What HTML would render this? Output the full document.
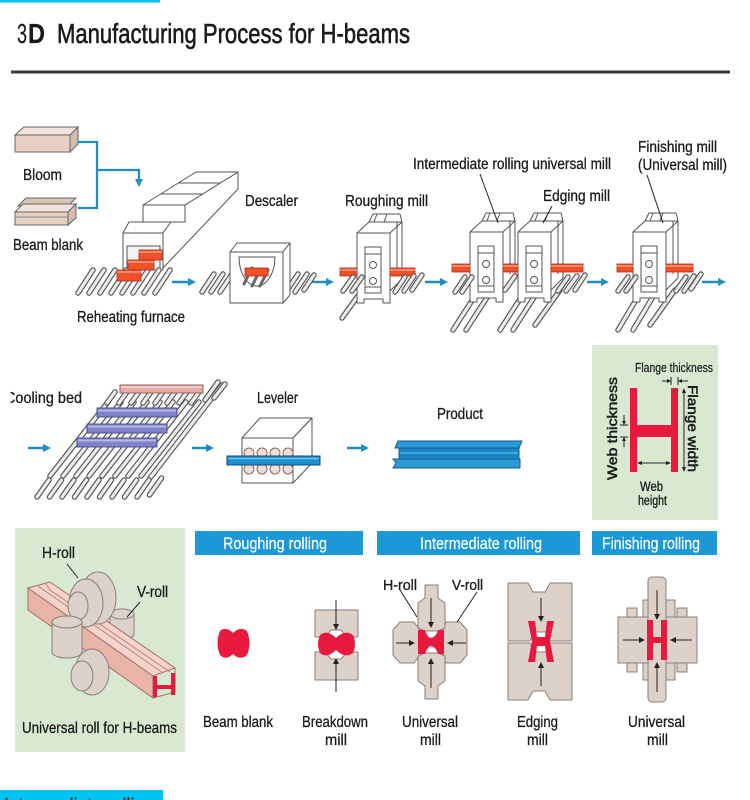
<!DOCTYPE html>
<html><head><meta charset="utf-8"><style>
html,body{margin:0;padding:0;background:#fff;}
svg{display:block;}
text{font-family:"Liberation Sans Narrow","Liberation Sans",sans-serif;fill:#1a1a1a;stroke:#1a1a1a;stroke-width:0.3;}
.r1{stroke:#555;stroke-width:5.5;stroke-linecap:round;fill:none}
.r2{stroke:#ececec;stroke-width:3.2;stroke-linecap:round;fill:none}
.ln{stroke:#555;stroke-width:1;fill:#fff;stroke-linejoin:round}
.gl{stroke:#555;stroke-width:1;fill:none}
.ar{stroke:#1f8fc2;stroke-width:2.5;fill:none}
.ah{fill:#1f8fc2}
.red{fill:#f0502a;stroke:#a83015;stroke-width:0.8}
.roll{fill:#ddd2ca;stroke:#8a7f78;stroke-width:1;stroke-linejoin:round}
.hr{fill:#e8193c}
.bk{stroke:#222;stroke-width:1;fill:none}
.hdr{fill:#1b98d5}
text.wt{fill:#fff;stroke:#fff;stroke-width:0.2}
</style></head><body>
<svg width="750" height="800" viewBox="0 0 750 800" xmlns="http://www.w3.org/2000/svg">
<defs>
 <g id="mill">
  <path class="ln" d="M0 0 L12 -11 H45 V46 L33 58 V0 Z"/>
  <path class="gl" d="M33 0 L45 -11 M40 -11 V42"/>
  <path class="ln" d="M12 -11 L16 -19 H43 L45 -11 Z"/>
  <path class="gl" d="M20 -19 L17 -11 M30 -19 L27 -11"/>
  <path class="ln" d="M0 0 H33 V70 H26 V66 H7 V70 H0 Z"/>
  <rect class="ln" x="8" y="14" width="16" height="46"/>
  <path class="gl" d="M8 21 H24 M8 54 H24"/>
  <circle class="ln" cx="16" cy="32" r="3.5"/>
  <circle class="ln" cx="16" cy="48" r="3.5"/>
 </g>
 <path id="rf" d="M78 293L93 270 M89 293L104 270 M100 293L115 270 M111 293L126 270 M122 293L137 270 M133 293L148 270 M144 293L159 270 M155 293L170 270"/>
 <path id="rd" d="M202 292L214 274 M211 292L223 274 M220 292L232 274 M286 292L298 274 M295 292L307 274 M304 290L314 275"/>
 <path id="rl" d="M342 318L368 282 M453 330L482 285 M466 330L495 285 M500 330L529 285 M513 330L542 285 M535 325L560 290 M618 330L645 285 M633 330L660 285 M650 325L675 290"/>
 <path id="rs" d="M343 291L353 277 M352 291L362 277 M395 292L405 277 M404 291L414 276 M412 290L422 275 M455 292L465 277 M462 292L472 277 M505 290L515 276 M558 291L568 277 M566 291L577 276 M575 290L585 275 M618 291L628 277 M626 291L636 277 M676 291L686 277 M684 291L694 276 M691 289L701 274"/>
 <path id="cb1" d="M50 476L108 402 M63 476L121 402 M76 476L134 402 M89 476L147 402 M102 476L160 402 M115 476L173 402 M128 476L186 402 M141 476L199 402 M150 478L222 385"/>
 <path id="cb2" d="M37 497L49 480 M49.5 497L61.5 480 M62 497L74 480 M74.5 497L86.5 480 M87 497L99 480 M99.5 497L111.5 480 M112 497L124 480 M124.5 497L136.5 480 M137 497L149 480 M149.5 495L161.5 478"/>
 <path id="cb3" d="M107 403L115 392 M119 403L127 392 M131 403L139 392 M143 403L151 392 M155 403L163 392 M167 403L175 392 M179 403L187 392 M191 403L199 392 M205 400L218 382 M214 398L225 384"/>
</defs>

<!-- top cyan -->
<rect x="0" y="0" width="160" height="2.5" fill="#00c2f0"/>

<!-- Title -->
<text x="17" y="43" font-size="28" textLength="10" lengthAdjust="spacingAndGlyphs" style="stroke-width:0.2">3</text>
<text x="28" y="43" font-size="28" font-weight="bold" textLength="17" lengthAdjust="spacingAndGlyphs">D</text>
<text x="57" y="43" font-size="28" textLength="353" lengthAdjust="spacingAndGlyphs" style="stroke-width:0.6">Manufacturing Process for H-beams</text>
<rect x="11" y="70.5" width="719" height="3" fill="#3a3a42"/>

<!-- Bloom and beam blank -->
<path d="M15 135 L24 127 H78 L70 135 Z" fill="#f2e4dc" stroke="#666"/>
<rect x="15" y="135" width="55" height="17" fill="#e6d0c4" stroke="#666"/>
<path d="M70 135 L78 127 V144 L70 152 Z" fill="#d4bcb0" stroke="#666"/>
<text x="23" y="180" font-size="16" textLength="39" lengthAdjust="spacingAndGlyphs">Bloom</text>

<path d="M18 206 L26 198 H76 L68 206 Z" fill="#d8c4b8" stroke="#666"/>
<path d="M15 212 L23 204 H76 L68 212 Z" fill="#f2e4dc" stroke="#666"/>
<rect x="15" y="212" width="53" height="13" fill="#e6d0c4" stroke="#666"/>
<path d="M68 212 L76 204 V218 L68 225 Z" fill="#d4bcb0" stroke="#666"/>
<path d="M15 217 H68" stroke="#888" fill="none"/>
<text x="13" y="250" font-size="16" textLength="70" lengthAdjust="spacingAndGlyphs">Beam blank</text>

<!-- connector -->
<path d="M78 142 H97 V208 H78 M97 170 H139 V180" fill="none" stroke="#1f8fc2" stroke-width="2.3"/>
<polygon class="ah" points="135,179 143,179 139,187"/>

<!-- Furnace -->
<path class="ln" d="M163 268 V233 L170 222 H185 V205 L238 172 V189 Z"/>
<path class="ln" d="M143 205 H185 L238 172 H196 Z"/>
<path class="gl" d="M178 183 H220 M161 194 H203"/>
<rect class="ln" x="143" y="205" width="42" height="17"/>
<path class="ln" d="M123 233 L129 222 H171 L163 233 Z"/>
<rect class="ln" x="123" y="233" width="40" height="37"/>
<rect x="127" y="246" width="33" height="24" fill="#f4f4f4" stroke="#555"/>
<use href="#rf" class="r1"/><use href="#rf" class="r2"/>
<rect class="red" x="139" y="250" width="23" height="10"/>
<rect class="red" x="128" y="260" width="26" height="10"/>
<rect class="red" x="117" y="270" width="24" height="11"/>
<path d="M139 252 H162 M128 262 H154 M117 272 H141" stroke="#f8a080" stroke-width="1.5"/>
<text x="77" y="322" font-size="16" textLength="108" lengthAdjust="spacingAndGlyphs">Reheating furnace</text>

<!-- arrows row1 -->
<path class="ar" d="M172 282 H189 M312 282 H327 M425 282 H441 M587 282 H602 M702 282 H719"/>
<polygon class="ah" points="188,278 196,282 188,286"/>
<polygon class="ah" points="326,278 334,282 326,286"/>
<polygon class="ah" points="440,278 448,282 440,286"/>
<polygon class="ah" points="601,278 609,282 601,286"/>
<polygon class="ah" points="718,278 726,282 718,286"/>

<!-- Descaler -->
<use href="#rd" class="r1"/><use href="#rd" class="r2"/>
<path class="ln" d="M230 252 L237 243 H290 L283 252 Z"/>
<path class="ln" d="M283 252 L290 243 V295 L283 303 Z"/>
<rect class="ln" x="230" y="252" width="53" height="51"/>
<path d="M239 257 H275 A18 29 0 0 1 239 257 Z" fill="#fff" stroke="#555"/>
<path d="M244 284L252 268 M252 286L260 270 M260 286L268 270" stroke="#666" stroke-width="3" stroke-linecap="round"/>
<rect class="red" x="245" y="268" width="23" height="8"/>
<text x="245" y="206" font-size="16" textLength="53" lengthAdjust="spacingAndGlyphs">Descaler</text>

<!-- mills -->
<use href="#rl" class="r1"/><use href="#rl" class="r2"/>
<use href="#mill" transform="translate(357,233)"/>
<use href="#mill" transform="translate(518,232)"/>
<use href="#mill" transform="translate(470,232)"/>
<use href="#mill" transform="translate(633,232)"/>
<rect class="red" x="340" y="268" width="17" height="8"/>
<rect class="red" x="390" y="268" width="25" height="8"/>
<rect class="red" x="452" y="264" width="18" height="8"/>
<rect class="red" x="503" y="264" width="15" height="8"/>
<rect class="red" x="551" y="264" width="32" height="8"/>
<rect class="red" x="617" y="264" width="16" height="8"/>
<rect class="red" x="666" y="264" width="27" height="8"/>
<path d="M340 270 H357 M390 270 H415 M452 266 H470 M503 266 H518 M551 266 H583 M617 266 H633 M666 266 H693" stroke="#f8a080" stroke-width="1.5"/>
<use href="#rs" class="r1"/><use href="#rs" class="r2"/>

<text x="345" y="206" font-size="16" textLength="83" lengthAdjust="spacingAndGlyphs">Roughing mill</text>
<text x="413" y="169" font-size="15.5" textLength="198" lengthAdjust="spacingAndGlyphs">Intermediate rolling universal mill</text>
<text x="543" y="201" font-size="16" textLength="67" lengthAdjust="spacingAndGlyphs">Edging mill</text>
<text x="638" y="152" font-size="15.5" textLength="79" lengthAdjust="spacingAndGlyphs">Finishing mill</text>
<text x="638" y="170" font-size="15.5" textLength="89" lengthAdjust="spacingAndGlyphs">(Universal mill)</text>
<path class="bk" d="M480 174 L498 223 M552 206 L543 223 M647 175 L663 223"/>

<!-- Row 2: cooling bed -->
<text x="5" y="403" font-size="16" textLength="77" lengthAdjust="spacingAndGlyphs">Cooling bed</text>
<rect x="0" y="384" width="10.5" height="22" fill="#fff"/>
<path class="ar" d="M28 448 H44 M192 448 H207 M347 448 H362"/>
<polygon class="ah" points="43,444 51,448 43,452"/>
<polygon class="ah" points="206,444 214,448 206,452"/>
<polygon class="ah" points="361,444 369,448 361,452"/>
<use href="#cb1" class="r1"/><use href="#cb1" class="r2"/>
<use href="#cb2" class="r1"/><use href="#cb2" class="r2"/>
<use href="#cb3" class="r1"/><use href="#cb3" class="r2"/>
<rect x="120" y="385" width="83" height="8" fill="#e8aca4" stroke="#906060"/>
<rect x="97" y="408" width="80" height="9" fill="#7f84c8" stroke="#4c508e"/>
<rect x="87" y="424" width="80" height="9" fill="#7f84c8" stroke="#4c508e"/>
<rect x="77" y="438" width="80" height="9" fill="#7f84c8" stroke="#4c508e"/>
<path d="M98 410.5 H176 M88 426.5 H166 M78 440.5 H156" stroke="#b4b8e4" stroke-width="2"/>
<path d="M121 387 H202" stroke="#f4d0cc" stroke-width="2"/>

<!-- Leveler -->
<text x="257" y="403" font-size="16" textLength="41" lengthAdjust="spacingAndGlyphs">Leveler</text>
<path class="ln" d="M242 438 L260 418 H312 L293 438 Z"/>
<path class="ln" d="M293 438 L312 418 V463 L293 483 Z"/>
<rect class="ln" x="242" y="438" width="51" height="45"/>
<g fill="#f0dcd4" stroke="#8a6a5a">
<circle cx="249" cy="453" r="5"/><circle cx="262" cy="453" r="5"/><circle cx="275" cy="453" r="5"/><circle cx="288" cy="453" r="5"/>
<circle cx="249" cy="469" r="5"/><circle cx="262" cy="469" r="5"/><circle cx="275" cy="469" r="5"/><circle cx="288" cy="469" r="5"/>
</g>
<rect x="227" y="456" width="93" height="9" fill="#1f8fd0" stroke="#0e4a78"/>
<path d="M228 458.5 H319" stroke="#6cc0ee" stroke-width="1.5"/>

<!-- Product -->
<text x="437" y="419" font-size="16" textLength="46" lengthAdjust="spacingAndGlyphs">Product</text>
<path d="M398 441 H522 L519 448 H395 Z" fill="#2a9ad8" stroke="#1a5a8a"/>
<rect x="399" y="448" width="120" height="11" fill="#1c84c4" stroke="#1a5a8a"/>
<path d="M393 459 H520 V468 H393 L396 463 Z" fill="#2a9ad8" stroke="#1a5a8a"/>
<path d="M400 453 H518" stroke="#3aa8e2" stroke-width="2"/>

<!-- Green H dimensions -->
<rect x="592" y="345" width="126" height="175" fill="#d9e8d0"/>
<path class="hr" d="M630 388 H637 V425 H671 V388 H678 V472 H671 V437 H637 V472 H630 Z"/>
<text x="635" y="372" font-size="12.5" textLength="78" lengthAdjust="spacingAndGlyphs" style="stroke-width:0.2">Flange thickness</text>
<path class="bk" d="M662 381 H670 M680 381 H688 M671 377 V385 M678 377 V385"/>
<polygon points="667,379 671,381 667,383" fill="#222"/>
<polygon points="682,379 678,381 682,383" fill="#222"/>
<path class="bk" d="M684 390 V470"/>
<polygon points="682,393 684,388 686,393" fill="#222"/>
<polygon points="682,467 684,472 686,467" fill="#222"/>
<path class="bk" d="M624 415 V424 M624 438 V447 M620 425 H628 M620 437 H628"/>
<polygon points="622,421 624,425 626,421" fill="#222"/>
<polygon points="622,441 624,437 626,441" fill="#222"/>
<path class="bk" d="M640 463 H668"/>
<polygon points="642,461 637,463 642,465" fill="#222"/>
<polygon points="666,461 671,463 666,465" fill="#222"/>
<text transform="translate(617,480) rotate(-90)" font-size="14" textLength="103" lengthAdjust="spacingAndGlyphs" style="stroke-width:0.5">Web thickness</text>
<text transform="translate(688,385) rotate(90)" font-size="14" textLength="87" lengthAdjust="spacingAndGlyphs" style="stroke-width:0.5">Flange width</text>
<text x="640" y="491" font-size="13.5" textLength="23" lengthAdjust="spacingAndGlyphs">Web</text>
<text x="638" y="505" font-size="13.5" textLength="29" lengthAdjust="spacingAndGlyphs">height</text>

<!-- Row 3: universal roll panel -->
<rect x="15" y="528" width="170" height="224" fill="#d9e8d0"/>
<text x="42" y="558" font-size="16" textLength="33" lengthAdjust="spacingAndGlyphs">H-roll</text>
<text x="137" y="597" font-size="16" textLength="31" lengthAdjust="spacingAndGlyphs">V-roll</text>
<path class="roll" d="M110 614 V634 A12 5 0 0 0 134 634 V614 Z"/>
<ellipse class="roll" cx="122" cy="614" rx="12" ry="5"/>
<path d="M28 588 L153 676 V698 L28 610 Z" fill="#e8b4a8" stroke="#a07068"/>
<path d="M28 588 L50 582 L175 668 L153 676 Z" fill="#f6d4cc" stroke="#a07068"/>
<path d="M175 668 V692 L153 698" fill="none" stroke="#a07068"/>
<path d="M38 586 L163 673 M46 584 L50 590 L170 672" fill="none" stroke="#c08078"/>
<path d="M153 676 h4 v9 h14 v-12 h4 v22 h-4 v-6 h-14 v8 h-4 Z" fill="#e8193c"/>
<ellipse class="roll" cx="98" cy="598" rx="18" ry="26"/>
<ellipse class="roll" cx="86" cy="603" rx="17" ry="24"/>
<ellipse class="roll" cx="78" cy="606" rx="10" ry="14"/>
<path class="roll" d="M52 622 V652 A15 6 0 0 0 82 652 V622 Z"/>
<ellipse class="roll" cx="67" cy="622" rx="15" ry="6"/>
<ellipse class="roll" cx="92" cy="672" rx="17" ry="23"/>
<ellipse class="roll" cx="82" cy="676" rx="11" ry="15"/>
<path class="bk" d="M67 564 L78 578 M140 602 L127 617"/>
<text x="22" y="733" font-size="16" textLength="155" lengthAdjust="spacingAndGlyphs">Universal roll for H-beams</text>

<!-- headers -->
<rect class="hdr" x="195" y="531" width="168" height="24"/>
<rect class="hdr" x="377" y="531" width="203" height="24"/>
<rect class="hdr" x="592" y="531" width="125" height="24"/>
<text class="wt" x="223" y="549" font-size="17" textLength="104" lengthAdjust="spacingAndGlyphs">Roughing rolling</text>
<text class="wt" x="420" y="549" font-size="17" textLength="122" lengthAdjust="spacingAndGlyphs">Intermediate rolling</text>
<text class="wt" x="602" y="549" font-size="17" textLength="98" lengthAdjust="spacingAndGlyphs">Finishing rolling</text>

<!-- beam blank -->
<path class="hr" d="M220 631 Q226 626 233 633 Q240 626 247 631 Q252 643 247 655 Q240 661 233 654 Q226 661 220 655 Q215 643 220 631 Z"/>
<text x="203" y="727" font-size="16" textLength="70" lengthAdjust="spacingAndGlyphs">Beam blank</text>

<!-- breakdown mill -->
<path class="roll" d="M315 610 H358 V637 H347 L341 630 H331 L325 637 H315 Z"/>
<path class="roll" d="M315 680 H358 V652 H347 L341 659 H331 L325 652 H315 Z"/>
<path class="hr" d="M320 635 Q327 629 336 638 Q345 629 353 635 Q357 644 353 653 Q345 659 336 650 Q327 659 320 653 Q316 644 320 635 Z"/>
<path class="bk" d="M336 600 V626 M336 692 V662"/>
<polygon points="333,624 336,630 339,624" fill="#222"/>
<polygon points="333,664 336,658 339,664" fill="#222"/>
<text x="302" y="727" font-size="16" textLength="66" lengthAdjust="spacingAndGlyphs">Breakdown</text>
<text x="325" y="745" font-size="16" textLength="22" lengthAdjust="spacingAndGlyphs">mill</text>

<!-- intermediate universal -->
<path class="roll" d="M400 622 H414 L420 630 V655 L414 663 H400 L393 655 V630 Z"/>
<path class="roll" d="M446 622 H460 L467 630 V655 L460 663 H446 L443 655 V630 Z"/>
<path class="roll" d="M425 585 H438 V598 L445 603 V628 L438 631 H425 L418 628 V603 L425 598 Z"/>
<path class="roll" d="M425 699 H438 V686 L445 681 V656 L438 653 H425 L418 656 V681 L425 686 Z"/>
<path class="hr" d="M418 630 H425 Q427 637 431 638 Q436 637 438 630 H444 V654 H438 Q436 647 431 646 Q427 647 425 654 H418 Z"/>
<path class="bk" d="M431 598 V624 M431 688 V662 M396 643 H411 M466 643 H451"/>
<polygon points="428,622 431,628 434,622" fill="#222"/>
<polygon points="428,664 431,658 434,664" fill="#222"/>
<polygon points="409,640 415,643 409,646" fill="#222"/>
<polygon points="453,640 447,643 453,646" fill="#222"/>
<path class="bk" d="M400 590 L417 617 M477 592 L457 622"/>
<text x="383" y="590" font-size="15" textLength="34" lengthAdjust="spacingAndGlyphs">H-roll</text>
<text x="452" y="590" font-size="15" textLength="31" lengthAdjust="spacingAndGlyphs">V-roll</text>
<text x="402" y="727" font-size="16" textLength="56" lengthAdjust="spacingAndGlyphs">Universal</text>
<text x="420" y="745" font-size="16" textLength="21" lengthAdjust="spacingAndGlyphs">mill</text>

<!-- edging mill -->
<path class="roll" d="M508 583 H528 L533 592 H545 L550 583 H572 V641 H550 L546 632 H534 L530 641 H508 Z"/>
<path class="roll" d="M508 700 H528 L533 691 H545 L550 700 H572 V643 H550 L546 652 H534 L530 643 H508 Z"/>
<path class="hr" d="M528 621 H535 L537 637 H545 L547 621 H554 L550 641 L554 662 H547 L545 646 H537 L535 662 H528 L532 641 Z"/>
<path class="bk" d="M541 598 V618 M541 686 V666"/>
<polygon points="538,616 541,622 544,616" fill="#222"/>
<polygon points="538,668 541,662 544,668" fill="#222"/>
<text x="517" y="727" font-size="16" textLength="41" lengthAdjust="spacingAndGlyphs">Edging</text>
<text x="527" y="745" font-size="16" textLength="21" lengthAdjust="spacingAndGlyphs">mill</text>

<!-- finishing universal -->
<g class="roll">
<rect x="627" y="608" width="10" height="10"/><rect x="643" y="600" width="10" height="18"/><rect x="665" y="600" width="10" height="18"/><rect x="677" y="608" width="10" height="10"/>
<rect x="627" y="662" width="10" height="10"/><rect x="643" y="662" width="10" height="18"/><rect x="665" y="662" width="10" height="18"/><rect x="677" y="662" width="10" height="10"/>
</g>
<rect class="roll" x="618" y="617" width="79" height="46"/>
<rect class="roll" x="648" y="577" width="18" height="125" rx="4"/>
<path class="hr" d="M647 620 H653 V637 H661 V620 H667 V660 H661 V643 H653 V660 H647 Z"/>
<path class="bk" d="M657 590 V616 M657 692 V666 M623 640 H640 M692 640 H675"/>
<polygon points="654,614 657,620 660,614" fill="#222"/>
<polygon points="654,668 657,662 660,668" fill="#222"/>
<polygon points="639,637 645,640 639,643" fill="#222"/>
<polygon points="676,637 670,640 676,643" fill="#222"/>
<text x="628" y="727" font-size="16" textLength="57" lengthAdjust="spacingAndGlyphs">Universal</text>
<text x="647" y="745" font-size="16" textLength="21" lengthAdjust="spacingAndGlyphs">mill</text>

<!-- bottom cyan bar -->
<rect x="0" y="790" width="163" height="10" fill="#00c4f2"/>
<text x="4" y="811" font-size="18" textLength="150" lengthAdjust="spacingAndGlyphs">Intermediate rolling</text>
</svg>
</body></html>
